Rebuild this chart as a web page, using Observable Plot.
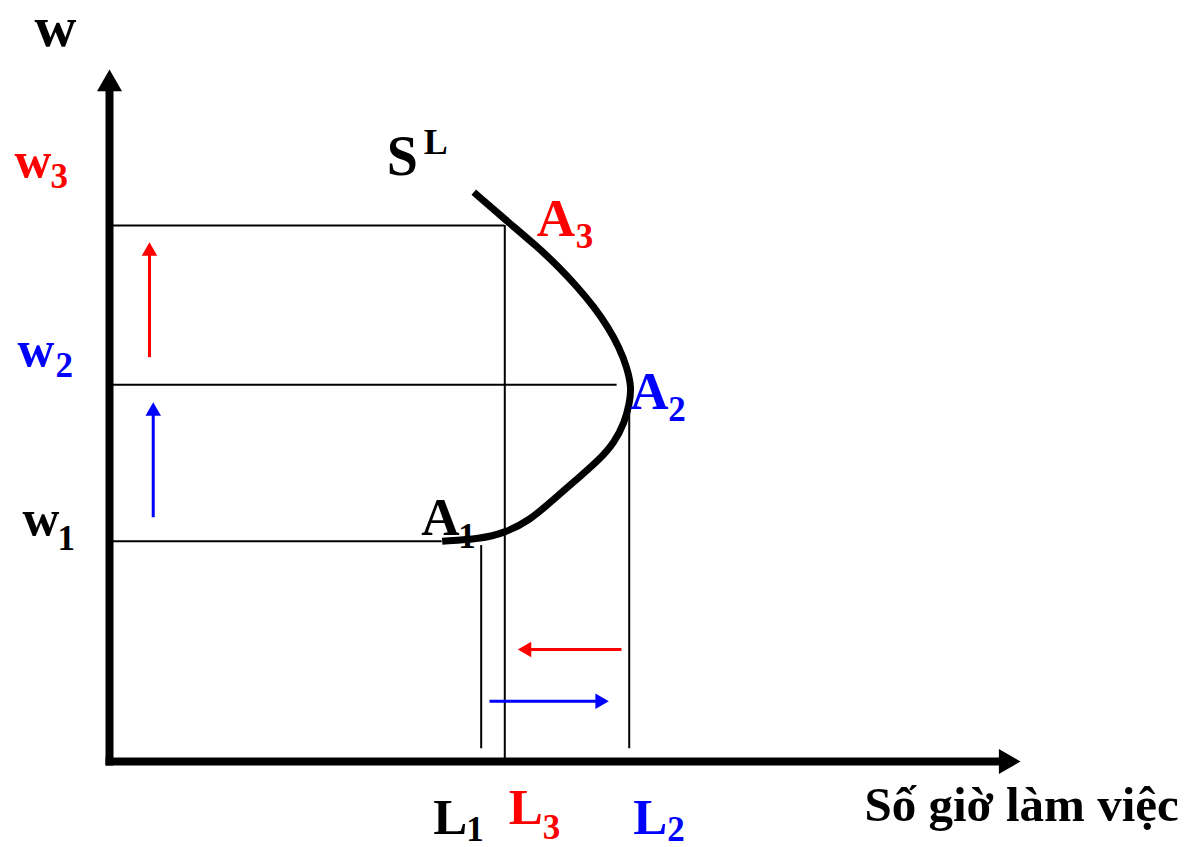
<!DOCTYPE html>
<html>
<head>
<meta charset="utf-8">
<script src="https://cdn.jsdelivr.net/npm/d3@7"></script>
<script src="https://cdn.jsdelivr.net/npm/@observablehq/plot@0.6"></script>
<style>
  html, body { margin: 0; padding: 0; background: #ffffff; }
  #chart svg { display: block; }
</style>
</head>
<body>
<div id="chart"></div>
<script>
// ---------- data (hours on x, wage on y; abstract units 0–100) ----------
const labourLabels = ["1", "3", "2"];           // L1, L3, L2
const labourHours  = [40.80, 43.39, 57.05];
const wageLabels   = ["1", "2", "3"];           // w1, w2, w3
const wageLevels   = [31.84, 54.44, 77.46];

// backward-bending labour supply curve S^L (from A1 up to beyond A3)
const curveHours = [36.52, 40.72, 43.36, 46.10, 48.63, 51.15, 53.68, 55.43, 56.53, 57.08, 57.30,
                    56.80, 55.94, 54.72, 53.21, 51.39, 49.34, 47.03, 43.47, 39.99];
const curveWages = [31.84, 32.18, 33.02, 34.83, 37.72, 40.61, 43.50, 46.10, 48.99, 51.73, 54.09,
                    56.98, 59.87, 62.76, 65.65, 68.54, 71.43, 74.32, 78.28, 82.27];

// guide lines: horizontal from wage axis, vertical from hours axis
const hGuideEnd    = [36.52, 55.72, 43.39];   // for w1, w2, w3
const vGuideBottom = [1.84, 0, 1.84];         // for L1, L3, L2
const vGuideTop    = [31.20, 77.46, 50.70];

// vertical arrows (wage rises) and horizontal arrows (hours change)
const wageArrowX    = [4.80, 4.39];
const wageArrowFrom = [35.30, 58.43];
const wageArrowTo   = [51.92, 75.04];
const wageArrowColor = ["#0000ff", "#ff0000"];

const hourArrowY    = [8.71, 16.18];
const hourArrowFrom = [41.71, 56.20];
const hourArrowTo   = [54.81, 44.82];
const hourArrowColor = ["#0000ff", "#ff0000"];

// ---------- layout ----------
const W = 1186, H = 847;
const mL = 109, mR = 166, mT = 69, mB = 86;
const pxX = 100 / (W - mL - mR);   // data units per pixel
const pxY = 100 / (H - mT - mB);
const serif = "'Liberation Serif', 'Times New Roman', Times, serif";
const RED = "#ff0000", BLUE = "#0000ff", BLACK = "#000000";

const triR = side => Math.sqrt((Math.sqrt(3) / 4) * side * side / Math.PI);
const tipOff = side => side / Math.sqrt(3);

const axisHead = 25, smallHead = 15.5;

function lbl(x, y, t, color, size, dx, dy) {
  return Plot.text([t], {
    x: () => x, y: () => y, text: d => d,
    fill: color, fontSize: size, fontWeight: "bold", fontFamily: serif,
    textAnchor: "start", lineAnchor: "bottom", dx, dy
  });
}

const curve = curveHours.map((h, i) => ({h, w: curveWages[i]}));
const hGuides = wageLevels.map((w, i) => ({w, x2: hGuideEnd[i]}));
const vGuides = labourHours.map((h, i) => ({h, y1: vGuideBottom[i], y2: vGuideTop[i]}));
const vArrows = wageArrowX.map((x, i) => ({x, from: wageArrowFrom[i], to: wageArrowTo[i], c: wageArrowColor[i]}));
const hArrows = hourArrowY.map((y, i) => ({y, from: hourArrowFrom[i], to: hourArrowTo[i], c: hourArrowColor[i], dir: Math.sign(hourArrowTo[i] - hourArrowFrom[i])}));

const wageColors = [BLACK, BLUE, RED];
const labourColors = [BLACK, RED, BLUE];
const last = curveHours.length - 1;

const chart = Plot.plot({
  width: W, height: H,
  marginLeft: mL, marginRight: mR, marginTop: mT, marginBottom: mB,
  x: {domain: [0, 100], axis: null},
  y: {domain: [0, 100], axis: null},
  style: {fontFamily: serif, overflow: "visible", background: "#ffffff"},
  marks: [
    // guide lines
    Plot.ruleY(hGuides, {y: "w", x1: () => 0, x2: "x2", stroke: BLACK, strokeWidth: 2}),
    Plot.ruleX(vGuides, {x: "h", y1: "y1", y2: "y2", stroke: BLACK, strokeWidth: 2}),

    // vertical coloured arrows
    Plot.link(vArrows, {x1: "x", x2: "x", y1: "from", y2: d => d.to - tipOff(smallHead) * pxY, stroke: "c", strokeWidth: 3, strokeLinecap: "butt"}),
    Plot.dot(vArrows, {x: "x", y: "to", symbol: "triangle", r: triR(smallHead), fill: "c", stroke: "none", dy: tipOff(smallHead)}),

    // horizontal coloured arrows
    Plot.link(hArrows, {y1: "y", y2: "y", x1: "from", x2: d => d.to - d.dir * tipOff(smallHead) * pxX, stroke: "c", strokeWidth: 3, strokeLinecap: "butt"}),
    Plot.dot(hArrows.filter(d => d.dir > 0), {x: "to", y: "y", symbol: "triangle", r: triR(smallHead), fill: "c", stroke: "none", rotate: 90, dx: -tipOff(smallHead)}),
    Plot.dot(hArrows.filter(d => d.dir < 0), {x: "to", y: "y", symbol: "triangle", r: triR(smallHead), fill: "c", stroke: "none", rotate: -90, dx: tipOff(smallHead)}),

    // axes
    Plot.link([0], {x1: () => 0, x2: () => 0, y1: () => 0, y2: () => 97, stroke: BLACK, strokeWidth: 8, strokeLinecap: "square"}),
    Plot.link([0], {x1: () => 0, x2: () => 97.5, y1: () => 0, y2: () => 0, stroke: BLACK, strokeWidth: 8, strokeLinecap: "square"}),
    Plot.dot([0], {x: () => 0, y: () => 100, symbol: "triangle", r: triR(axisHead), fill: BLACK, stroke: "none", dy: tipOff(axisHead)}),
    Plot.dot([0], {x: () => 100, y: () => 0, symbol: "triangle", r: triR(axisHead), fill: BLACK, stroke: "none", rotate: 90, dx: -tipOff(axisHead)}),

    // supply curve
    Plot.line(curve, {x: "h", y: "w", curve: "basis", stroke: BLACK, strokeWidth: 7, strokeLinecap: "butt", strokeLinejoin: "round"}),

    // axis titles
    lbl(0, 100, "w", BLACK, 58, -75, -24),
    lbl(100, 0, "Số giờ làm việc", BLACK, 49, -156, 59),

    // wage labels w1, w2, w3
    lbl(0, wageLevels[0], "w", wageColors[0], 51, -87, -6),
    lbl(0, wageLevels[0], wageLabels[0], wageColors[0], 35, -52, 9),
    lbl(0, wageLevels[1], "w", wageColors[1], 51, -92, -19),
    lbl(0, wageLevels[1], wageLabels[1], wageColors[1], 35, -54, -8),
    lbl(0, wageLevels[2], "w", wageColors[2], 51, -95, -48),
    lbl(0, wageLevels[2], wageLabels[2], wageColors[2], 35, -59, -37),

    // hours labels L1, L3, L2
    lbl(labourHours[0], 0, "L", labourColors[0], 51, -48, 72),
    lbl(labourHours[0], 0, labourLabels[0], labourColors[0], 35, -15, 79),
    lbl(labourHours[1], 0, "L", labourColors[1], 51, 4, 62),
    lbl(labourHours[1], 0, labourLabels[1], labourColors[1], 35, 38, 77),
    lbl(labourHours[2], 0, "L", labourColors[2], 51, 4, 72),
    lbl(labourHours[2], 0, labourLabels[2], labourColors[2], 35, 38, 79),

    // point labels A1, A2, A3
    lbl(curveHours[0], curveWages[0], "A", BLACK, 53, -21, -6),
    lbl(curveHours[0], curveWages[0], "1", BLACK, 35, 16, 7),
    lbl(labourHours[2], wageLevels[1], "A", BLUE, 53, 1, 24),
    lbl(labourHours[2], wageLevels[1], "2", BLUE, 35, 39, 36),
    lbl(labourHours[1], wageLevels[2], "A", RED, 53, 32, 11),
    lbl(labourHours[1], wageLevels[2], "3", RED, 35, 71, 23),

    // curve label S^L
    lbl(curveHours[last], curveWages[last], "S", BLACK, 56, -87, -17),
    lbl(curveHours[last], curveWages[last], "L", BLACK, 36, -50, -38)
  ]
});

document.getElementById("chart").appendChild(chart);
</script>
</body>
</html>
